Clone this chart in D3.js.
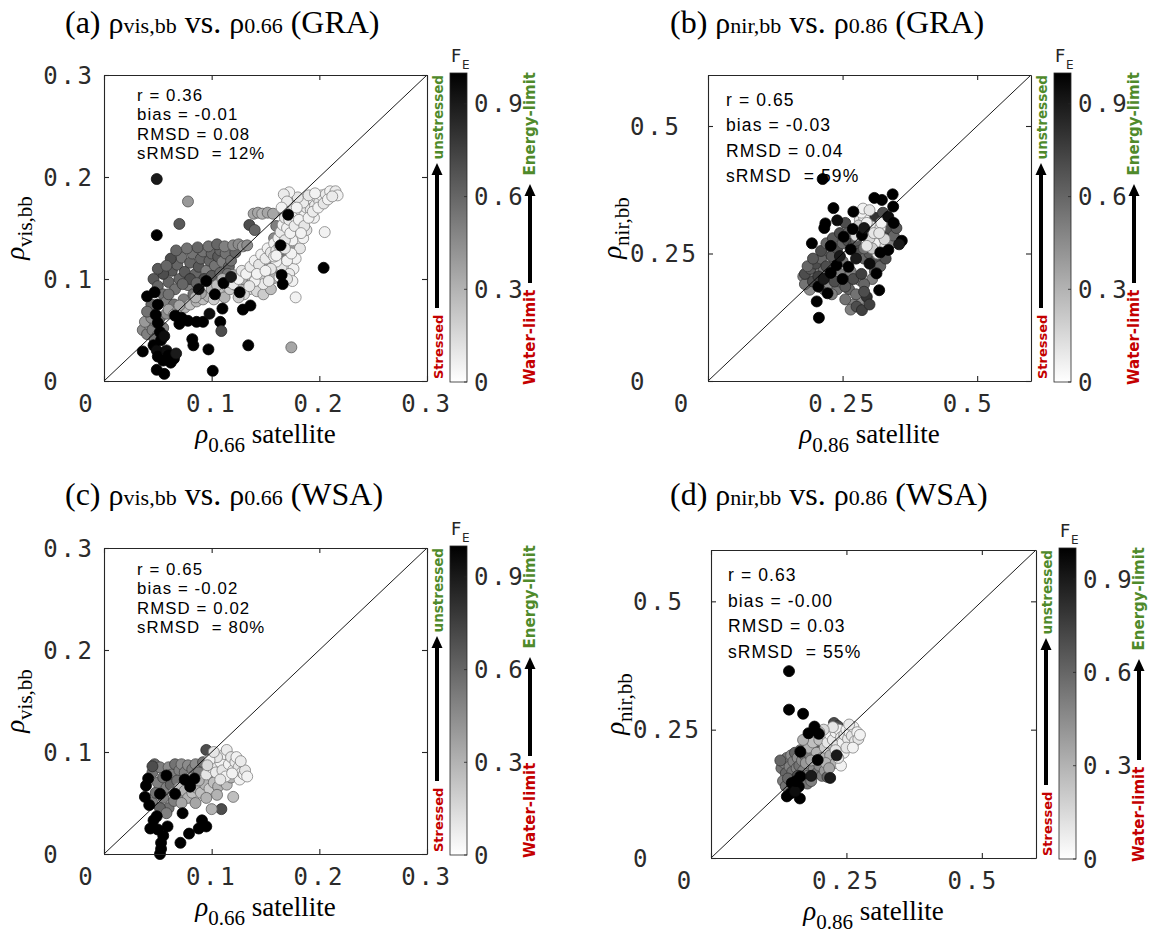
<!DOCTYPE html>
<html>
<head>
<meta charset="utf-8">
<script src="https://cdn.jsdelivr.net/npm/d3@7"></script>
<style>
  body { margin: 0; background: #fff; }
  svg { display: block; }
  .tl { font-family: "DejaVu Sans Mono"; font-size: 24px; fill: #2b2b2b; letter-spacing: 2.7px; white-space: pre; }
  .stat { font-family: "Liberation Sans"; fill: #000; white-space: pre; letter-spacing: 1.1px; }
</style>
</head>
<body>
<svg id="fig" width="1157" height="938"></svg>
<script>
// ---------- data: [satellite, broadband, F_E] ----------
const graVisPts = [
  // grey cluster lower left
  [0.036,0.050,0.45],[0.040,0.046,0.5],[0.042,0.055,0.4],[0.045,0.050,0.5],[0.048,0.058,0.45],[0.050,0.045,0.5],
  [0.038,0.058,0.4],[0.044,0.062,0.45],[0.052,0.062,0.55],[0.055,0.052,0.5],[0.058,0.066,0.45],[0.047,0.041,0.55],
  // dark grey cluster above the 1:1 line
  [0.046,0.100,0.65],[0.050,0.093,0.6],[0.055,0.085,0.55],[0.060,0.097,0.6],[0.063,0.108,0.65],[0.066,0.090,0.55],
  [0.068,0.114,0.6],[0.070,0.100,0.6],[0.072,0.121,0.55],[0.075,0.107,0.65],[0.078,0.094,0.5],[0.080,0.116,0.6],
  [0.082,0.125,0.55],[0.085,0.105,0.6],[0.088,0.112,0.65],[0.090,0.120,0.6],[0.092,0.127,0.55],[0.095,0.108,0.5],
  [0.098,0.118,0.6],[0.100,0.125,0.6],[0.103,0.113,0.55],[0.106,0.122,0.65],[0.108,0.128,0.6],[0.110,0.117,0.5],
  [0.113,0.125,0.55],[0.116,0.112,0.6],[0.058,0.078,0.5],[0.065,0.075,0.55],[0.074,0.080,0.5],[0.083,0.085,0.55],
  [0.055,0.105,0.7],[0.062,0.120,0.7],[0.080,0.100,0.7],[0.093,0.100,0.7],
  [0.050,0.110,0.65],[0.058,0.113,0.6],[0.067,0.128,0.6],[0.077,0.130,0.55],[0.087,0.131,0.6],[0.097,0.132,0.55],
  [0.105,0.134,0.6],[0.112,0.132,0.5],[0.118,0.118,0.55],[0.122,0.126,0.6],[0.073,0.095,0.6],[0.086,0.096,0.6],
  [0.100,0.103,0.65],[0.108,0.106,0.6],[0.115,0.105,0.55],[0.060,0.085,0.55],[0.044,0.075,0.6],[0.040,0.068,0.55],
  [0.120,0.133,0.45],[0.125,0.134,0.45],[0.129,0.132,0.4],[0.133,0.133,0.45],[0.135,0.153,0.7],[0.140,0.148,0.6],
  // light grey band
  [0.060,0.070,0.35],[0.068,0.068,0.3],[0.075,0.072,0.3],[0.080,0.075,0.25],[0.086,0.078,0.3],[0.092,0.080,0.25],
  [0.097,0.083,0.3],[0.102,0.080,0.2],[0.107,0.086,0.25],[0.112,0.082,0.3],[0.117,0.090,0.2],[0.122,0.094,0.25],
  [0.128,0.092,0.3],[0.133,0.098,0.2],[0.138,0.101,0.25],[0.143,0.095,0.3],[0.148,0.103,0.2],[0.153,0.106,0.25],
  [0.158,0.101,0.3],[0.163,0.110,0.35],[0.145,0.110,0.35],[0.150,0.114,0.4],[0.167,0.118,0.35],[0.120,0.104,0.35],
  [0.135,0.090,0.15],[0.142,0.088,0.15],[0.130,0.085,0.15],[0.125,0.082,0.2],
  [0.100,0.090,0.3],[0.105,0.094,0.25],[0.110,0.100,0.3],[0.115,0.097,0.25],[0.090,0.086,0.35],[0.085,0.082,0.3],
  [0.070,0.074,0.35],[0.065,0.065,0.3],[0.128,0.100,0.3],[0.140,0.108,0.3],[0.158,0.112,0.35],[0.148,0.085,0.2],
  [0.155,0.090,0.25],
  [0.139,0.164,0.35],[0.143,0.165,0.35],[0.147,0.164,0.3],[0.152,0.165,0.35],[0.157,0.164,0.35],[0.168,0.164,0.35],
  [0.171,0.181,0.3],
  [0.160,0.152,0.5],[0.158,0.140,0.45],[0.170,0.146,0.4],[0.172,0.140,0.6],[0.175,0.130,0.4],[0.165,0.126,0.5],[0.168,0.120,0.55],
  // near-white branch below the 1:1 line
  [0.120,0.095,0.1],[0.125,0.100,0.05],[0.128,0.108,0.1],[0.132,0.105,0.05],[0.136,0.112,0.08],[0.140,0.118,0.05],
  [0.144,0.114,0.1],[0.146,0.124,0.05],[0.150,0.120,0.08],[0.152,0.130,0.05],[0.155,0.126,0.1],[0.158,0.135,0.05],
  [0.160,0.128,0.1],[0.162,0.140,0.05],[0.164,0.146,0.08],[0.166,0.153,0.05],[0.168,0.160,0.1],[0.170,0.150,0.05],
  [0.172,0.158,0.08],[0.174,0.166,0.05],[0.176,0.172,0.1],[0.178,0.160,0.05],[0.180,0.150,0.08],[0.182,0.168,0.05],
  [0.184,0.158,0.1],[0.186,0.162,0.05],[0.188,0.170,0.08],[0.190,0.175,0.05],[0.192,0.168,0.1],[0.194,0.178,0.05],
  [0.196,0.172,0.08],[0.198,0.180,0.05],[0.200,0.176,0.1],[0.202,0.182,0.05],[0.206,0.183,0.08],[0.210,0.186,0.05],
  [0.215,0.186,0.08],[0.217,0.182,0.05],[0.205,0.146,0.05],[0.178,0.082,0.05],[0.176,0.110,0.05],[0.172,0.105,0.08],
  [0.178,0.120,0.05],[0.182,0.130,0.1],[0.175,0.138,0.05],[0.185,0.140,0.05],[0.165,0.112,0.1],[0.170,0.118,0.05],
  [0.160,0.117,0.05],[0.155,0.110,0.1],[0.148,0.095,0.08],[0.140,0.098,0.05],[0.135,0.093,0.1],[0.142,0.105,0.05],
  [0.195,0.160,0.05],[0.185,0.175,0.08],[0.180,0.180,0.1],[0.172,0.185,0.05],[0.167,0.183,0.08],[0.188,0.148,0.1],
  [0.150,0.108,0.05],[0.158,0.122,0.08],[0.163,0.132,0.05],[0.168,0.138,0.1],[0.173,0.145,0.05],[0.177,0.152,0.08],
  [0.181,0.158,0.05],[0.186,0.152,0.1],[0.190,0.160,0.05],[0.194,0.166,0.08],[0.199,0.170,0.05],[0.204,0.174,0.1],
  [0.208,0.178,0.05],[0.212,0.181,0.08],[0.174,0.125,0.05],[0.168,0.130,0.1],[0.160,0.123,0.05],[0.183,0.145,0.05],
  [0.179,0.170,0.05],[0.170,0.176,0.08],[0.165,0.170,0.05],[0.190,0.182,0.1],[0.196,0.184,0.05],[0.175,0.098,0.05],
  [0.170,0.100,0.1],[0.163,0.102,0.05],[0.153,0.098,0.08],
  // black points
  [0.036,0.029,1],[0.046,0.035,1],[0.049,0.030,0.95],[0.050,0.024,1],[0.053,0.040,1],[0.055,0.020,1],[0.058,0.030,0.95],
  [0.060,0.025,1],[0.062,0.018,1],[0.065,0.022,1],[0.067,0.027,0.9],[0.049,0.011,1],[0.056,0.007,1],[0.101,0.010,1],
  [0.097,0.031,1],[0.083,0.035,1],[0.082,0.041,1],[0.134,0.035,1],[0.050,0.057,1],[0.052,0.048,1],[0.056,0.044,0.95],
  [0.048,0.065,1],[0.040,0.083,1],[0.047,0.087,1],[0.050,0.075,1],[0.066,0.064,1],[0.070,0.056,1],[0.072,0.062,1],
  [0.078,0.059,1],[0.086,0.058,1],[0.092,0.058,1],[0.098,0.066,0.95],[0.103,0.085,1],[0.108,0.058,1],[0.109,0.049,0.7],
  [0.110,0.071,1],[0.126,0.087,1],[0.129,0.070,1],[0.136,0.074,1],[0.111,0.096,1],[0.118,0.102,0.9],[0.095,0.098,1],
  [0.088,0.090,0.95],[0.164,0.133,1],[0.165,0.104,1],[0.166,0.095,1],[0.171,0.163,1],[0.204,0.111,1],
  // isolated points
  [0.049,0.198,0.9],[0.078,0.176,0.4],[0.070,0.154,0.65],[0.049,0.143,1],[0.174,0.033,0.35]
];

const graNirPts = [
  // mid grey
  [0.177,0.205,0.5],[0.189,0.179,0.45],[0.185,0.195,0.55],[0.200,0.215,0.45],[0.215,0.180,0.5],[0.225,0.190,0.45],
  [0.240,0.180,0.55],[0.245,0.210,0.5],[0.260,0.195,0.45],[0.265,0.215,0.5],[0.224,0.250,0.5],[0.282,0.198,0.5],
  [0.282,0.160,0.45],[0.270,0.150,0.5],[0.235,0.230,0.45],[0.250,0.235,0.55],[0.300,0.270,0.5],[0.318,0.270,0.45],
  [0.340,0.270,0.5],[0.305,0.200,0.5],
  [0.215,0.220,0.55],[0.225,0.205,0.6],[0.245,0.195,0.55],[0.262,0.180,0.6],[0.275,0.170,0.55],[0.290,0.190,0.6],
  [0.310,0.215,0.55],[0.195,0.205,0.5],[0.180,0.190,0.55],[0.200,0.195,0.4],[0.230,0.170,0.5],[0.255,0.160,0.55],
  [0.265,0.140,0.5],
  // dark grey
  [0.180,0.210,0.7],[0.190,0.220,0.65],[0.200,0.230,0.7],[0.210,0.240,0.6],[0.220,0.225,0.7],[0.230,0.245,0.65],
  [0.240,0.260,0.7],[0.250,0.270,0.6],[0.260,0.275,0.7],[0.270,0.265,0.65],[0.280,0.250,0.7],[0.290,0.240,0.6],
  [0.300,0.250,0.65],[0.310,0.235,0.7],[0.320,0.225,0.6],[0.330,0.240,0.7],[0.195,0.195,0.7],[0.205,0.205,0.75],
  [0.235,0.195,0.7],[0.255,0.185,0.65],[0.270,0.200,0.7],[0.285,0.210,0.75],[0.276,0.146,0.7],[0.286,0.139,0.75],
  [0.295,0.165,0.8],[0.300,0.150,0.75],[0.290,0.175,0.7],[0.300,0.290,0.75],[0.310,0.320,0.8],[0.325,0.330,0.7],
  [0.330,0.290,0.75],[0.255,0.310,0.7],
  [0.185,0.225,0.6],[0.195,0.240,0.65],[0.210,0.255,0.7],[0.220,0.270,0.6],[0.232,0.280,0.65],[0.245,0.290,0.7],
  [0.260,0.290,0.6],[0.275,0.275,0.65],[0.290,0.260,0.55],[0.305,0.275,0.6],[0.320,0.285,0.65],[0.335,0.300,0.7],
  [0.345,0.285,0.6],[0.350,0.300,0.65],
  // near white
  [0.282,0.316,0.1],[0.290,0.320,0.05],[0.304,0.303,0.08],[0.296,0.292,0.1],[0.313,0.283,0.05],[0.326,0.263,0.1],
  [0.310,0.270,0.05],[0.300,0.280,0.15],[0.320,0.300,0.08],[0.285,0.330,0.05],[0.275,0.285,0.15],[0.315,0.250,0.1],
  [0.305,0.260,0.2],[0.295,0.265,0.1],[0.328,0.278,0.15],[0.280,0.305,0.2],
  [0.288,0.338,0.05],[0.300,0.335,0.1],[0.295,0.310,0.05],[0.308,0.290,0.1],[0.322,0.310,0.05],[0.318,0.290,0.1],
  // black
  [0.213,0.396,1],[0.233,0.339,1],[0.240,0.315,0.95],[0.218,0.309,1],[0.216,0.300,1],[0.193,0.270,1],[0.252,0.283,1],
  [0.269,0.298,1],[0.270,0.332,1],[0.286,0.286,1],[0.309,0.359,1],[0.323,0.355,1],[0.343,0.366,1],[0.344,0.342,1],
  [0.335,0.322,0.95],[0.345,0.310,1],[0.360,0.275,1],[0.355,0.268,0.9],[0.320,0.252,1],[0.335,0.257,1],[0.313,0.211,1],
  [0.318,0.178,1],[0.202,0.156,1],[0.206,0.124,1],[0.239,0.227,1],[0.261,0.224,1],[0.245,0.245,0.9],[0.228,0.265,1],
  [0.205,0.185,1],[0.215,0.200,0.9],[0.265,0.258,1],[0.300,0.230,0.95],[0.290,0.300,0.9],[0.250,0.200,1],
  [0.222,0.172,1],[0.275,0.240,0.9],[0.228,0.212,1]
];

const wsaVisPts = [
  // mid grey
  [0.045,0.050,0.5],[0.048,0.060,0.55],[0.050,0.070,0.5],[0.045,0.080,0.55],[0.047,0.088,0.6],[0.052,0.085,0.5],
  [0.055,0.075,0.55],[0.058,0.065,0.5],[0.060,0.085,0.45],[0.063,0.078,0.5],[0.066,0.088,0.55],[0.070,0.082,0.5],
  [0.072,0.088,0.45],[0.075,0.080,0.5],[0.078,0.087,0.45],[0.082,0.083,0.5],[0.085,0.088,0.45],[0.088,0.080,0.5],
  [0.055,0.055,0.5],[0.060,0.045,0.55],[0.065,0.052,0.5],[0.070,0.058,0.45],[0.052,0.045,0.6],[0.062,0.068,0.6],
  [0.068,0.072,0.55],[0.080,0.070,0.5],[0.090,0.072,0.45],[0.095,0.102,0.7],[0.114,0.094,0.7],[0.109,0.044,0.7],
  [0.045,0.086,0.7],[0.092,0.090,0.55],[0.098,0.080,0.5],[0.058,0.040,0.5],
  // light grey
  [0.065,0.060,0.3],[0.070,0.065,0.25],[0.075,0.062,0.3],[0.078,0.055,0.3],[0.082,0.060,0.25],[0.086,0.065,0.3],
  [0.090,0.060,0.25],[0.094,0.068,0.3],[0.098,0.064,0.2],[0.102,0.070,0.25],[0.106,0.066,0.3],[0.110,0.072,0.2],
  [0.114,0.068,0.25],[0.118,0.075,0.3],[0.120,0.056,0.25],[0.100,0.044,0.3],[0.085,0.050,0.35],[0.072,0.050,0.35],
  [0.095,0.055,0.3],[0.105,0.058,0.3],[0.080,0.075,0.35],[0.088,0.072,0.3],
  // near white
  [0.095,0.078,0.1],[0.100,0.085,0.05],[0.104,0.080,0.08],[0.108,0.090,0.05],[0.110,0.082,0.1],[0.112,0.098,0.05],
  [0.114,0.102,0.08],[0.116,0.088,0.05],[0.118,0.095,0.1],[0.120,0.082,0.05],[0.122,0.090,0.08],[0.123,0.095,0.05],
  [0.125,0.085,0.1],[0.126,0.073,0.05],[0.128,0.080,0.08],[0.130,0.078,0.05],[0.131,0.082,0.1],[0.133,0.076,0.05],
  [0.105,0.095,0.1],[0.098,0.092,0.05],[0.102,0.100,0.1],[0.113,0.076,0.05],[0.119,0.079,0.05],[0.127,0.091,0.08],
  [0.108,0.073,0.1],[0.096,0.087,0.15],
  // black
  [0.052,0.000,1],[0.053,0.005,1],[0.053,0.011,1],[0.055,0.018,1],[0.050,0.024,1],[0.043,0.025,1],[0.046,0.033,1],
  [0.059,0.027,1],[0.071,0.011,1],[0.079,0.020,1],[0.088,0.025,1],[0.091,0.033,1],[0.095,0.027,1],
  [0.039,0.067,1],[0.038,0.056,1],[0.042,0.048,1],[0.041,0.074,1],[0.058,0.077,1],[0.066,0.059,1],[0.075,0.073,1],
  [0.080,0.066,1],[0.084,0.074,1],[0.073,0.040,1],[0.052,0.059,1],[0.049,0.037,1]
];

const wsaNirPts = [
  // mid grey
  [0.130,0.175,0.55],[0.135,0.185,0.5],[0.138,0.165,0.6],[0.140,0.195,0.55],[0.145,0.178,0.5],[0.148,0.200,0.45],
  [0.150,0.168,0.55],[0.152,0.188,0.5],[0.155,0.205,0.6],[0.158,0.175,0.5],[0.160,0.195,0.45],[0.163,0.180,0.55],
  [0.165,0.210,0.5],[0.168,0.190,0.45],[0.170,0.170,0.5],[0.173,0.200,0.55],[0.175,0.185,0.4],[0.178,0.160,0.5],
  [0.133,0.150,0.5],[0.138,0.140,0.55],[0.142,0.155,0.6],[0.178,0.145,0.55],[0.185,0.150,0.5],[0.190,0.175,0.45],
  [0.183,0.200,0.5],[0.195,0.165,0.55],[0.200,0.180,0.45],[0.205,0.160,0.5],[0.210,0.170,0.4],[0.215,0.158,0.6],
  [0.227,0.263,0.7],[0.234,0.257,0.7],[0.175,0.225,0.6],[0.195,0.220,0.65],[0.160,0.160,0.7],[0.128,0.190,0.6],
  // light grey
  [0.180,0.215,0.3],[0.188,0.225,0.25],[0.195,0.205,0.3],[0.200,0.230,0.25],[0.205,0.195,0.3],[0.210,0.215,0.2],
  [0.215,0.235,0.25],[0.220,0.200,0.3],[0.225,0.220,0.25],[0.212,0.185,0.3],[0.185,0.190,0.35],[0.170,0.230,0.3],
  [0.230,0.185,0.3],[0.218,0.175,0.35],
  // near white
  [0.215,0.225,0.1],[0.220,0.240,0.05],[0.225,0.230,0.08],[0.230,0.245,0.05],[0.233,0.220,0.1],[0.236,0.250,0.05],
  [0.240,0.235,0.08],[0.243,0.225,0.05],[0.246,0.240,0.1],[0.250,0.250,0.05],[0.253,0.232,0.08],[0.256,0.245,0.05],
  [0.260,0.238,0.1],[0.263,0.255,0.05],[0.266,0.228,0.08],[0.270,0.245,0.05],[0.272,0.232,0.1],[0.275,0.240,0.05],
  [0.255,0.260,0.08],[0.245,0.205,0.05],[0.250,0.215,0.1],[0.240,0.180,0.05],[0.230,0.210,0.1],[0.262,0.215,0.05],
  [0.235,0.195,0.08],[0.225,0.255,0.1],[0.208,0.250,0.15],[0.200,0.245,0.15],
  // black
  [0.144,0.364,1],[0.144,0.289,1],[0.170,0.281,1],[0.191,0.256,1],[0.180,0.243,1],[0.199,0.242,1],[0.165,0.207,1],
  [0.197,0.191,1],[0.165,0.159,1],[0.162,0.139,1],[0.147,0.126,1],[0.164,0.116,1],[0.140,0.120,1],[0.149,0.146,1],
  [0.155,0.130,0.95],[0.220,0.156,0.9],[0.185,0.160,0.9],[0.232,0.200,0.9],[0.157,0.150,1]
];

// ---------- statistics ----------
const statNames = ["r", "bias", "RMSD", "sRMSD "];
const graVisStats = ["0.36", "-0.01", "0.08", "12%"];
const graNirStats = ["0.65", "-0.03", "0.04", "59%"];
const wsaVisStats = ["0.65", "-0.02", "0.02", "80%"];
const wsaNirStats = ["0.63", "-0.00", "0.03", "55%"];

// ---------- ticks ----------
const visTicks = [0, 0.1, 0.2, 0.3];
const visTickLabels = ["0", "0.1", "0.2", "0.3"];
const nirTicks = [0, 0.25, 0.5];
const nirTickLabels = ["0", "0.25", "0.5"];
const feTicks = [0, 0.3, 0.6, 0.9];
const feTickLabels = ["0", "0.3", "0.6", "0.9"];

// ---------- figure ----------
const svg = d3.select("#fig");
svg.append("rect").attr("width", 1157).attr("height", 938).attr("fill", "#fff");

const feFill = d3.scaleLinear().domain([0, 1]).range(["#ffffff", "#000000"]);
const feStroke = d3.scaleLinear().domain([0, 1]).range(["#8a8a8a", "#000000"]);
const axisColor = "#262626";
const green = "#4f8a2b";
const red = "#c40000";

const grad = svg.append("defs").append("linearGradient")
  .attr("id", "feGrad").attr("x1", 0).attr("y1", 1).attr("x2", 0).attr("y2", 0);
d3.range(0, 11).forEach(i => grad.append("stop").attr("offset", i / 10).attr("stop-color", feFill(i / 10)));

const panels = [
  { tag: "(a)", site: "(GRA)", band: "vis,bb", sat: "0.66", pts: graVisPts, stats: graVisStats,
    max: 0.3, ticks: visTicks, labels: visTickLabels,
    left: 104, right: 427, top: 75, bottom: 381, titleX: 65, titleY: 33,
    statX: 137, statY: 101, statGap: 19.3, statSize: 16.8, yLabX: 24 },
  { tag: "(b)", site: "(GRA)", band: "nir,bb", sat: "0.86", pts: graNirPts, stats: graNirStats,
    max: 0.6, ticks: nirTicks, labels: nirTickLabels,
    left: 708, right: 1031, top: 75, bottom: 381, titleX: 670, titleY: 33,
    statX: 726, statY: 106, statGap: 25.3, statSize: 17.5, yLabX: 621 },
  { tag: "(c)", site: "(WSA)", band: "vis,bb", sat: "0.66", pts: wsaVisPts, stats: wsaVisStats,
    max: 0.3, ticks: visTicks, labels: visTickLabels,
    left: 104, right: 427, top: 548, bottom: 854, titleX: 65, titleY: 505,
    statX: 137, statY: 575, statGap: 19.3, statSize: 16.8, yLabX: 24 },
  { tag: "(d)", site: "(WSA)", band: "nir,bb", sat: "0.86", pts: wsaNirPts, stats: wsaNirStats,
    max: 0.6, ticks: nirTicks, labels: nirTickLabels,
    left: 711, right: 1036, top: 550, bottom: 858, titleX: 670, titleY: 505,
    statX: 728, statY: 581, statGap: 25.7, statSize: 17.5, yLabX: 624 }
];

function arrow(g, x, y0, y1) {
  g.append("line").attr("x1", x).attr("x2", x).attr("y1", y0).attr("y2", y1 + 10)
    .attr("stroke", "#000").attr("stroke-width", 4);
  g.append("path").attr("d", `M${x - 5.5},${y1 + 12}L${x},${y1}L${x + 5.5},${y1 + 12}Z`).attr("fill", "#000");
}

function vText(g, x, y, txt, anchor, size, color) {
  g.append("text").attr("x", x).attr("y", y)
    .attr("transform", `rotate(-90,${x},${y})`)
    .attr("text-anchor", anchor).attr("dominant-baseline", "central")
    .attr("font-family", "DejaVu Sans").attr("font-weight", "bold")
    .attr("font-size", size).attr("fill", color).text(txt);
}

panels.forEach(p => {
  const g = svg.append("g");
  const x = d3.scaleLinear().domain([0, p.max]).range([p.left, p.right]);
  const y = d3.scaleLinear().domain([0, p.max]).range([p.bottom, p.top]);
  const width = Math.max(...p.labels.map(s => s.length));
  const pad = s => s.padEnd(width, "\u00A0");

  // title
  const t = g.append("text").attr("x", p.titleX).attr("y", p.titleY)
    .attr("font-family", "Liberation Serif").attr("fill", "#000").style("white-space", "pre");
  t.append("tspan").attr("font-size", 32).text(p.tag + " ");
  t.append("tspan").attr("font-size", 30).text("ρ");
  t.append("tspan").attr("font-size", 22).text(p.band);
  t.append("tspan").attr("font-size", 32).text(" vs. ");
  t.append("tspan").attr("font-size", 30).text("ρ");
  t.append("tspan").attr("font-size", 22).text(p.sat);
  t.append("tspan").attr("font-size", 32).text(" " + p.site);

  // statistics block
  statNames.forEach((n, i) => {
    g.append("text").attr("class", "stat").attr("font-size", p.statSize)
      .attr("x", p.statX).attr("y", p.statY + i * p.statGap)
      .text(`${n} = ${p.stats[i]}`);
  });

  // scatter
  g.append("g").selectAll("circle").data(p.pts).join("circle")
    .attr("cx", d => x(d[0])).attr("cy", d => y(d[1])).attr("r", 5.5)
    .attr("fill", d => feFill(d[2])).attr("stroke", d => feStroke(d[2])).attr("stroke-width", 0.8);

  // 1:1 line
  g.append("line").attr("x1", x(0)).attr("y1", y(0)).attr("x2", x(p.max)).attr("y2", y(p.max))
    .attr("stroke", "#000").attr("stroke-width", 0.9);

  // axes box with inward ticks on all sides
  const axes = [
    [d3.axisBottom(x), `translate(0,${p.bottom})`],
    [d3.axisTop(x), `translate(0,${p.top})`],
    [d3.axisLeft(y), `translate(${p.left},0)`],
    [d3.axisRight(y), `translate(${p.right},0)`]
  ];
  axes.forEach(([ax, tr]) => {
    const a = g.append("g").attr("transform", tr)
      .call(ax.tickValues(p.ticks).tickSize(-5).tickSizeOuter(0).tickFormat(""));
    a.selectAll("path,line").attr("stroke", axisColor).attr("stroke-width", 1.1);
    a.selectAll("text").remove();
  });

  // tick labels (fixed-width strings)
  p.ticks.forEach((v, i) => {
    g.append("text").attr("class", "tl").attr("x", x(v)).attr("y", p.bottom + 31)
      .attr("text-anchor", "middle").text(pad(p.labels[i]));
    g.append("text").attr("class", "tl").attr("x", p.left - 9.3).attr("y", y(v) + 8.5)
      .attr("text-anchor", "end").text(pad(p.labels[i]));
  });

  // axis titles
  const xl = g.append("text").attr("x", (p.left + p.right) / 2).attr("y", p.bottom + 62)
    .attr("text-anchor", "middle").attr("font-family", "Liberation Serif").attr("fill", "#000");
  xl.append("tspan").attr("font-size", 27).attr("font-style", "italic").text("ρ");
  xl.append("tspan").attr("font-size", 21).attr("dy", 9).text(p.sat);
  xl.append("tspan").attr("font-size", 27).attr("dy", -9).text(" satellite");

  const cy0 = (p.top + p.bottom) / 2;
  const yl = g.append("text").attr("x", p.yLabX).attr("y", cy0)
    .attr("transform", `rotate(-90,${p.yLabX},${cy0})`)
    .attr("text-anchor", "middle").attr("font-family", "Liberation Serif").attr("fill", "#000");
  yl.append("tspan").attr("font-size", 27).attr("font-style", "italic").text("ρ");
  yl.append("tspan").attr("font-size", 21).attr("dy", 8).text(p.band);

  // colour bar
  const cbX = p.right + 23, cbW = 17;
  const cs = d3.scaleLinear().domain([0, 1]).range([p.bottom + 1, p.top - 2]);
  g.append("rect").attr("x", cbX).attr("y", cs(1)).attr("width", cbW).attr("height", cs(0) - cs(1))
    .attr("fill", "url(#feGrad)").attr("stroke", axisColor).attr("stroke-width", 0.8);
  feTicks.forEach((v, i) => {
    g.append("line").attr("x1", cbX + cbW - 3).attr("x2", cbX + cbW).attr("y1", cs(v)).attr("y2", cs(v))
      .attr("stroke", axisColor).attr("stroke-width", 0.8);
    g.append("text").attr("class", "tl").attr("x", cbX + cbW + 7).attr("y", cs(v) + 8.5).text(feTickLabels[i]);
  });
  g.append("text").attr("x", cbX + 1).attr("y", p.top - 13)
    .attr("font-family", "DejaVu Sans").attr("font-size", 18).attr("fill", axisColor).text("F");
  g.append("text").attr("x", cbX + 12).attr("y", p.top - 6)
    .attr("font-family", "DejaVu Sans").attr("font-size", 12).attr("fill", axisColor).text("E");

  // stress / limitation annotations
  const a1 = p.right + 11, a2 = p.right + 103;
  vText(g, a1, p.top, "unstressed", "end", 13.5, green);
  vText(g, a1, p.bottom - 2, "Stressed", "start", 13, red);
  arrow(g, a1 - 1, p.bottom - 73, p.top + 88);
  vText(g, a2, p.top - 3, "Energy-limit", "end", 15, green);
  vText(g, a2, p.bottom + 4, "Water-limit", "start", 15, red);
  arrow(g, a2, p.bottom - 98, p.top + 109);
});
</script>
</body>
</html>
